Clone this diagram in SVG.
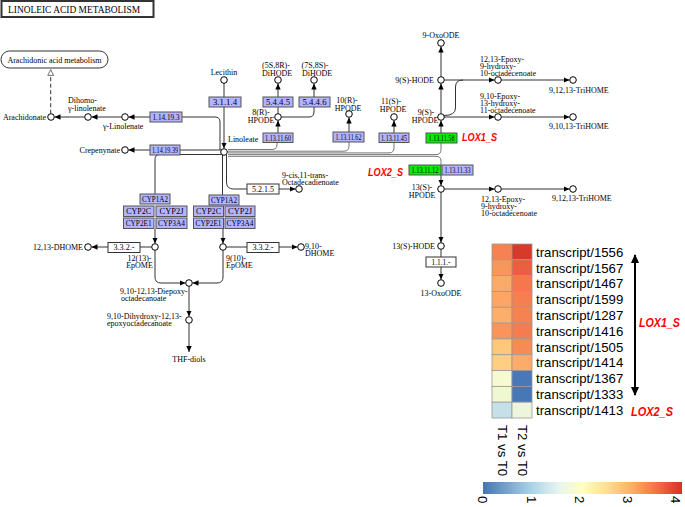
<svg xmlns="http://www.w3.org/2000/svg" width="685" height="507" viewBox="0 0 685 507">
<style>
.c{fill:#fff;stroke:#000;stroke-width:1}
.e{stroke:#333;stroke-width:1;fill:none}
.gr{stroke:#666;stroke-width:0.9;fill:none}
.bx{fill:#b3b3ff;stroke:#555;stroke-width:1}
.gn{fill:#00ee00;stroke:#555;stroke-width:1}
.wb{fill:#fff;stroke:#333;stroke-width:1}
.t{font-family:"Liberation Serif",serif;font-size:8px;fill:#000;opacity:0.99}
.m{text-anchor:middle}
.en{text-anchor:end}
.r{font-family:"Liberation Sans",Arial,sans-serif;font-weight:bold;font-style:italic;fill:#f00}
.s{font-family:"Liberation Sans",Arial,sans-serif;font-size:13.2px;fill:#000}
.hc{stroke:#9a9a9a;stroke-width:0.8}
</style>
<defs>
<marker id="a" viewBox="0 0 6 6" refX="6" refY="3" markerWidth="6" markerHeight="6" orient="auto" markerUnits="userSpaceOnUse"><path d="M0,0.3 L6,3 L0,5.7 z" fill="#000"/></marker>
<marker id="o" viewBox="0 0 6 6" refX="6" refY="3" markerWidth="7" markerHeight="7" orient="auto" markerUnits="userSpaceOnUse"><path d="M0.5,0.5 L5.5,3 L0.5,5.5 z" fill="#fff" stroke="#666" stroke-width="0.8"/></marker>
<marker id="h" viewBox="0 0 10 10" refX="9" refY="5" markerWidth="9" markerHeight="9" orient="auto" markerUnits="userSpaceOnUse"><path d="M0,0.5 L10,5 L0,9.5 z" fill="#000"/></marker>
<linearGradient id="cb" x1="0" x2="1" y1="0" y2="0">
<stop offset="0" stop-color="#4575b4"/>
<stop offset="0.24" stop-color="#a9d2e6"/>
<stop offset="0.38" stop-color="#e8f5f1"/>
<stop offset="0.5" stop-color="#ffffbf"/>
<stop offset="0.62" stop-color="#fee090"/>
<stop offset="0.75" stop-color="#fdae61"/>
<stop offset="0.88" stop-color="#f46d43"/>
<stop offset="1" stop-color="#d73027"/>
</linearGradient>
</defs>
<rect width="685" height="507" fill="#fff"/>

<g id="title">
<rect x="1.5" y="1" width="152" height="16" fill="#fff" stroke="#333" stroke-width="2"/>
<text class="t" x="8" y="13" style="font-size:9.5px" textLength="132" lengthAdjust="spacingAndGlyphs">LINOLEIC  ACID  METABOLISM</text>
</g>

<g id="connectors">
<path class="e" d="M50.7 113.7 V69" stroke-dasharray="4,2.5" stroke="#666" marker-end="url(#o)"/>
<path class="e" d="M84.7 117 H54.5" marker-end="url(#a)"/>
<path class="e" d="M121.7 117 H91.5" marker-end="url(#a)"/>
<path class="e" d="M150 117 H128.5" marker-end="url(#a)"/>
<path class="e" d="M182 117 H215 Q220 117 220 122 V150"/>
<path class="e" d="M150 150 H128.5" marker-end="url(#a)"/>
<path class="e" d="M180 150 H221"/>
<path class="e" d="M221 154.5 H160 Q155 154.5 155 159.5 V194"/>
<path class="e" d="M155 229 V243.5" marker-end="url(#a)"/>
<path class="e" d="M224 83.3 V97"/>
<path class="e" d="M224 107 V148.5" marker-end="url(#a)"/>
<path class="e" d="M222.5 155 V195"/>
<path class="e" d="M223 229 V243.5" marker-end="url(#a)"/>
<path class="e" d="M226.5 155 V182 Q226.5 189 233.5 189 H247"/>
<path class="e" d="M279 189 H295.5" marker-end="url(#a)"/>
<path class="e" d="M151.7 247 H140"/>
<path class="e" d="M108 247 H91.5" marker-end="url(#a)"/>
<path class="e" d="M226.3 247 H247"/>
<path class="e" d="M279 247 H297.5" marker-end="url(#a)"/>
<path class="e" d="M155 250.3 V277 Q155 283 161 283 H185.5" marker-end="url(#a)"/>
<path class="e" d="M223 250.3 V277 Q223 283 217 283 H192.5" marker-end="url(#a)"/>
<path class="e" d="M189 286.3 V316.5" marker-end="url(#a)"/>
<path class="e" d="M189 323.3 V352" marker-end="url(#a)"/>
<path class="e" d="M278 133 V120.5" marker-end="url(#a)"/>
<path class="e" d="M278 113.7 V107"/>
<path class="e" d="M278 97 V83.5" marker-end="url(#a)"/>
<path class="e" d="M281.3 117 H309 Q314 117 314 112 V107"/>
<path class="e" d="M314 97 V83.5" marker-end="url(#a)"/>
<path class="e" d="M349 132 V117.5" marker-end="url(#a)"/>
<path class="e" d="M394 133 V120.5" marker-end="url(#a)"/>
<path class="e" d="M441 133 V120.5" marker-end="url(#a)"/>
<path class="e" d="M441 113.7 V83.5" marker-end="url(#a)"/>
<path class="e" d="M441 76.7 V46.5" marker-end="url(#a)"/>
<path class="e" d="M444.3 80 H494.5" marker-end="url(#a)"/>
<path class="e" d="M501.3 80 H569.5" marker-end="url(#a)"/>
<path class="e" d="M444.3 117 H494.5" marker-end="url(#a)"/>
<path class="e" d="M501.3 117 H569.5" marker-end="url(#a)"/>
<path class="e" d="M444 115.5 Q455.5 115.5 455.5 108 V87 Q455.5 80 463 80"/>
<path class="e" d="M441 175 V185.5" marker-end="url(#a)"/>
<path class="e" d="M444.3 189 H494.5" marker-end="url(#a)"/>
<path class="e" d="M501.3 189 H569.5" marker-end="url(#a)"/>
<path class="e" d="M441 192.3 V242.5" marker-end="url(#a)"/>
<path class="e" d="M441 249.3 V257"/>
<path class="e" d="M441 267 V279.5" marker-end="url(#a)"/>
<path class="gr" d="M228 149.5 H272 Q277 149.5 277 144.5 V142"/>
<path class="gr" d="M228 151.2 H344 Q349 151.2 349 146.2 V142"/>
<path class="gr" d="M228 152.9 H389 Q394 152.9 394 147.9 V142"/>
<path class="gr" d="M228 154.6 H436 Q441 154.6 441 149.6 V143"/>
<path class="gr" d="M228 156.3 H436 Q441 156.3 441 161.3 V165"/>
<path d="M635 393 V255" stroke="#000" stroke-width="2" fill="none" marker-end="url(#h)"/>
<path d="M635 255 V395" stroke="#000" stroke-width="2" fill="none" marker-end="url(#h)"/>
</g>

<g id="arachidonic-acid-metabolism">
<rect x="1" y="51" width="107" height="17" rx="8.5" fill="#fff" stroke="#333"/>
<text class="t m" x="54.5" y="62.5">Arachidonic acid metabolism</text>
</g>
<g id="arachidonate"><circle class="c" cx="51" cy="117" r="3.3"/><text class="t en" x="46" y="120">Arachidonate</text></g>
<g id="dihomo-linolenate"><circle class="c" cx="88" cy="117" r="3.3"/><text class="t" x="68" y="103">Dihomo-</text><text class="t" x="68" y="111">γ-linolenate</text></g>
<g id="g-linolenate"><circle class="c" cx="125" cy="117" r="3.3"/><text class="t" x="103" y="129">γ-Linolenate</text></g>
<g id="crepenynate"><circle class="c" cx="125" cy="150" r="3.3"/><text class="t en" x="120" y="153">Crepenynate</text></g>
<g id="lecithin"><circle class="c" cx="224" cy="80" r="3.3"/><text class="t m" x="224" y="75">Lecithin</text></g>
<g id="linoleate"><circle class="c" cx="224" cy="152" r="3.3"/><text class="t" x="228" y="142">Linoleate</text></g>
<g id="diHODE-5S8R"><circle class="c" cx="278" cy="80" r="3.3"/><text class="t m" x="276" y="68">(5S,8R)-</text><text class="t m" x="277" y="76">DiHODE</text></g>
<g id="diHODE-7S8S"><circle class="c" cx="314" cy="80" r="3.3"/><text class="t m" x="315" y="68">(7S,8S)-</text><text class="t m" x="317" y="76">DiHODE</text></g>
<g id="hpode-8R"><circle class="c" cx="278" cy="117" r="3.3"/><text class="t m" x="261" y="115">8(R)-</text><text class="t m" x="261" y="123">HPODE</text></g>
<g id="hpode-10R"><circle class="c" cx="349" cy="114" r="3.3"/><text class="t m" x="347" y="103">10(R)-</text><text class="t m" x="348" y="111">HPODE</text></g>
<g id="hpode-11S"><circle class="c" cx="394" cy="117" r="3.3"/><text class="t m" x="391" y="104">11(S)-</text><text class="t m" x="393" y="112">HPODE</text></g>
<g id="oxoODE-9"><circle class="c" cx="441" cy="43" r="3.3"/><text class="t m" x="441" y="38">9-OxoODE</text></g>
<g id="hode-9S"><circle class="c" cx="441" cy="80" r="3.3"/><text class="t en" x="434" y="83">9(S)-HODE</text></g>
<g id="hpode-9S"><circle class="c" cx="441" cy="117" r="3.3"/><text class="t m" x="426" y="115">9(S)-</text><text class="t m" x="425" y="123">HPODE</text></g>
<g id="epoxy-hydroxy-top"><circle class="c" cx="498" cy="80" r="3.3"/><text class="t" x="480" y="61.5">12,13-Epoxy-</text><text class="t" x="480" y="68.5">9-hydroxy-</text><text class="t" x="480" y="75.5">10-octadecenoate</text></g>
<g id="trihome-top"><circle class="c" cx="573" cy="80" r="3.3"/><text class="t" x="549" y="93">9,12,13-TriHOME</text></g>
<g id="epoxy-hydroxy-mid"><circle class="c" cx="498" cy="117" r="3.3"/><text class="t" x="480" y="98.5">9,10-Epoxy-</text><text class="t" x="480" y="105.5">13-hydroxy-</text><text class="t" x="480" y="112.5">11-octadecenoate</text></g>
<g id="trihome-mid"><circle class="c" cx="573" cy="117" r="3.3"/><text class="t" x="549" y="129">9,10,13-TriHOME</text></g>
<g id="octadecadienoate"><circle class="c" cx="299" cy="189" r="3.3"/><text class="t" x="282" y="178">9-cis,11-trans-</text><text class="t" x="282" y="185">Octadecadienoate</text></g>
<g id="hpode-13S"><circle class="c" cx="441" cy="189" r="3.3"/><text class="t m" x="422" y="190">13(S)-</text><text class="t m" x="422" y="197.5">HPODE</text></g>
<g id="epoxy-hydroxy-low"><circle class="c" cx="498" cy="189" r="3.3"/><text class="t" x="481" y="202">12,13-Epoxy-</text><text class="t" x="481" y="209">9-hydroxy-</text><text class="t" x="481" y="216">10-octadecenoate</text></g>
<g id="trihome-low"><circle class="c" cx="573" cy="189" r="3.3"/><text class="t" x="552" y="201">9,12,13-TriHOME</text></g>
<g id="hode-13S"><circle class="c" cx="441" cy="246" r="3.3"/><text class="t en" x="435" y="249">13(S)-HODE</text></g>
<g id="oxoODE-13"><circle class="c" cx="441" cy="283" r="3.3"/><text class="t m" x="441" y="296">13-OxoODE</text></g>
<g id="epome-12-13"><circle class="c" cx="155" cy="247" r="3.3"/><text class="t m" x="139.5" y="261">12(13)-</text><text class="t m" x="139.5" y="268">EpOME</text></g>
<g id="dhome-12-13"><circle class="c" cx="88" cy="247" r="3.3"/><text class="t en" x="83" y="250">12,13-DHOME</text></g>
<g id="epome-9-10"><circle class="c" cx="223" cy="247" r="3.3"/><text class="t" x="226" y="261">9(10)-</text><text class="t" x="226" y="268">EpOME</text></g>
<g id="dhome-9-10"><circle class="c" cx="301" cy="247" r="3.3"/><text class="t" x="305" y="248.5">9,10-</text><text class="t" x="305" y="255.5">DHOME</text></g>
<g id="diepoxy"><circle class="c" cx="189" cy="283" r="3.3"/><text class="t" x="120" y="293.5">9,10-12,13-Diepoxy-</text><text class="t" x="121" y="300.5">octadecanoate</text></g>
<g id="dihydroxy"><circle class="c" cx="189" cy="320" r="3.3"/><text class="t" x="107" y="319">9,10-Dihydroxy-12,13-</text><text class="t" x="107" y="326">epoxyoctadecanoate</text></g>
<g id="thf-diols"><text class="t m" x="189" y="362">THF-diols</text></g>

<g id="ec-1.14.19.3"><rect class="bx" x="150" y="112" width="32" height="10"/><text class="t m" x="166" y="119.8" textLength="27" lengthAdjust="spacingAndGlyphs">1.14.19.3</text></g>
<g id="ec-1.14.19.39"><rect class="bx" x="150" y="145" width="30" height="10"/><text class="t m" x="165" y="152.8" textLength="26" lengthAdjust="spacingAndGlyphs">1.14.19.39</text></g>
<g id="ec-3.1.1.4"><rect class="bx" x="209" y="97" width="32" height="10"/><text class="t m" x="225" y="104.8" textLength="24" lengthAdjust="spacingAndGlyphs">3.1.1.4</text></g>
<g id="ec-5.4.4.5"><rect class="bx" x="263" y="97" width="30" height="10"/><text class="t m" x="278" y="104.8" textLength="24" lengthAdjust="spacingAndGlyphs">5.4.4.5</text></g>
<g id="ec-5.4.4.6"><rect class="bx" x="299" y="97" width="31" height="10"/><text class="t m" x="314.5" y="104.8" textLength="24" lengthAdjust="spacingAndGlyphs">5.4.4.6</text></g>
<g id="ec-1.13.11.60"><rect class="bx" x="263" y="133" width="30" height="9.5"/><text class="t m" x="278" y="140.6" textLength="26" lengthAdjust="spacingAndGlyphs">1.13.11.60</text></g>
<g id="ec-1.13.11.62"><rect class="bx" x="333" y="132" width="31" height="10"/><text class="t m" x="348.5" y="139.8" textLength="26" lengthAdjust="spacingAndGlyphs">1.13.11.62</text></g>
<g id="ec-1.13.11.45"><rect class="bx" x="379" y="133" width="30" height="9.5"/><text class="t m" x="394" y="140.6" textLength="26" lengthAdjust="spacingAndGlyphs">1.13.11.45</text></g>
<g id="ec-1.13.11.58"><rect class="gn" x="426" y="133" width="31" height="10"/><text class="t m" x="441.5" y="140.8" textLength="26" lengthAdjust="spacingAndGlyphs">1.13.11.58</text></g>
<g id="ec-1.13.11.12"><rect class="gn" x="409" y="165" width="32" height="10"/><text class="t m" x="425" y="172.8" textLength="27" lengthAdjust="spacingAndGlyphs">1.13.11.12</text></g>
<g id="ec-1.13.11.33"><rect class="bx" x="442" y="165" width="31" height="10"/><text class="t m" x="457.5" y="172.8" textLength="26" lengthAdjust="spacingAndGlyphs">1.13.11.33</text></g>
<g id="ec-5.2.1.5"><rect class="wb" x="247" y="184" width="32" height="10"/><text class="t m" x="263" y="191.8" textLength="22" lengthAdjust="spacingAndGlyphs">5.2.1.5</text></g>
<g id="ec-3.3.2-left"><rect class="wb" x="108" y="242.5" width="32" height="10"/><text class="t m" x="124" y="250.3" textLength="21" lengthAdjust="spacingAndGlyphs">3.3.2.-</text></g>
<g id="ec-3.3.2-right"><rect class="wb" x="247" y="242.5" width="32" height="10"/><text class="t m" x="263" y="250.3" textLength="21" lengthAdjust="spacingAndGlyphs">3.3.2.-</text></g>
<g id="ec-1.1.1"><rect class="wb" x="426" y="257" width="30" height="10"/><text class="t m" x="441" y="264.8" textLength="19" lengthAdjust="spacingAndGlyphs">1.1.1.-</text></g>

<g id="cyp-left">
<rect class="bx" x="140" y="194" width="30" height="10"/><text class="t m" x="155" y="201.8" textLength="26" lengthAdjust="spacingAndGlyphs">CYP1A2</text>
<rect class="bx" x="123.5" y="206" width="30.5" height="10.5"/><text class="t m" x="138.7" y="214" textLength="25" lengthAdjust="spacingAndGlyphs">CYP2C</text>
<rect class="bx" x="156" y="206" width="31" height="10.5"/><text class="t m" x="171.5" y="214" textLength="24" lengthAdjust="spacingAndGlyphs">CYP2J</text>
<rect class="bx" x="123.5" y="218" width="30.5" height="10.5"/><text class="t m" x="138.7" y="226" textLength="26" lengthAdjust="spacingAndGlyphs">CYP2E1</text>
<rect class="bx" x="156" y="218" width="31" height="10.5"/><text class="t m" x="171.5" y="226" textLength="27" lengthAdjust="spacingAndGlyphs">CYP3A4</text>
</g>
<g id="cyp-right">
<rect class="bx" x="209" y="195" width="30" height="10"/><text class="t m" x="224" y="202.8" textLength="26" lengthAdjust="spacingAndGlyphs">CYP1A2</text>
<rect class="bx" x="193.5" y="206" width="30" height="10.5"/><text class="t m" x="208.5" y="214" textLength="25" lengthAdjust="spacingAndGlyphs">CYP2C</text>
<rect class="bx" x="225" y="206" width="30" height="10.5"/><text class="t m" x="240" y="214" textLength="24" lengthAdjust="spacingAndGlyphs">CYP2J</text>
<rect class="bx" x="193.5" y="218" width="30" height="10.5"/><text class="t m" x="208.5" y="226" textLength="26" lengthAdjust="spacingAndGlyphs">CYP2E1</text>
<rect class="bx" x="225" y="218" width="30" height="10.5"/><text class="t m" x="240" y="226" textLength="27" lengthAdjust="spacingAndGlyphs">CYP3A4</text>
</g>

<g id="lox-labels">
<text class="r" x="462" y="141" style="font-size:10.5px" textLength="35" lengthAdjust="spacingAndGlyphs">LOX1_S</text>
<text class="r" x="368" y="176" style="font-size:10.5px" textLength="35" lengthAdjust="spacingAndGlyphs">LOX2_S</text>
</g>

<g id="heatmap">
<rect class="hc" x="492" y="244" width="20" height="15.82" fill="#f6834f"/><rect class="hc" x="512" y="244" width="20" height="15.82" fill="#d83a2a"/>
<rect class="hc" x="492" y="259.82" width="20" height="15.82" fill="#f99659"/><rect class="hc" x="512" y="259.82" width="20" height="15.82" fill="#e8603f"/>
<rect class="hc" x="492" y="275.64" width="20" height="15.82" fill="#fcaa69"/><rect class="hc" x="512" y="275.64" width="20" height="15.82" fill="#f4784c"/>
<rect class="hc" x="492" y="291.46" width="20" height="15.82" fill="#fca565"/><rect class="hc" x="512" y="291.46" width="20" height="15.82" fill="#f57f51"/>
<rect class="hc" x="492" y="307.28" width="20" height="15.82" fill="#fdae6b"/><rect class="hc" x="512" y="307.28" width="20" height="15.82" fill="#f58352"/>
<rect class="hc" x="492" y="323.1" width="20" height="15.82" fill="#fa9459"/><rect class="hc" x="512" y="323.1" width="20" height="15.82" fill="#f47c4f"/>
<rect class="hc" x="492" y="338.92" width="20" height="15.82" fill="#fec77c"/><rect class="hc" x="512" y="338.92" width="20" height="15.82" fill="#f68b56"/>
<rect class="hc" x="492" y="354.74" width="20" height="15.82" fill="#fecf80"/><rect class="hc" x="512" y="354.74" width="20" height="15.82" fill="#fcab68"/>
<rect class="hc" x="492" y="370.56" width="20" height="15.82" fill="#f5fad0"/><rect class="hc" x="512" y="370.56" width="20" height="15.82" fill="#4a78b6"/>
<rect class="hc" x="492" y="386.38" width="20" height="15.82" fill="#eff8d3"/><rect class="hc" x="512" y="386.38" width="20" height="15.82" fill="#4777b5"/>
<rect class="hc" x="492" y="402.2" width="20" height="15.82" fill="#c6e0ea"/><rect class="hc" x="512" y="402.2" width="20" height="15.82" fill="#edf6dd"/>
<text class="s" x="536" y="256.8">transcript/1556</text>
<text class="s" x="536" y="272.6">transcript/1567</text>
<text class="s" x="536" y="288.4">transcript/1467</text>
<text class="s" x="536" y="304.2">transcript/1599</text>
<text class="s" x="536" y="320">transcript/1287</text>
<text class="s" x="536" y="335.8">transcript/1416</text>
<text class="s" x="536" y="351.6">transcript/1505</text>
<text class="s" x="536" y="367.4">transcript/1414</text>
<text class="s" x="536" y="383.2">transcript/1367</text>
<text class="s" x="536" y="399">transcript/1333</text>
<text class="s" x="536" y="414.8">transcript/1413</text>
<text class="s" transform="translate(498,425) rotate(90)">T1 vs T0</text>
<text class="s" transform="translate(517.5,425) rotate(90)">T2 vs T0</text>
<text class="r" x="639" y="327" style="font-size:12px" textLength="41" lengthAdjust="spacingAndGlyphs">LOX1_S</text>
<text class="r" x="631" y="416" style="font-size:12px" textLength="42" lengthAdjust="spacingAndGlyphs">LOX2_S</text>
</g>

<g id="colorbar">
<rect x="483" y="482" width="199" height="12" fill="url(#cb)"/>
<text class="s" transform="translate(478,496) rotate(90)">0</text>
<text class="s" transform="translate(526.5,496) rotate(90)">1</text>
<text class="s" transform="translate(575,496) rotate(90)">2</text>
<text class="s" transform="translate(623,496) rotate(90)">3</text>
<text class="s" transform="translate(670.5,496) rotate(90)">4</text>
</g>
</svg>
